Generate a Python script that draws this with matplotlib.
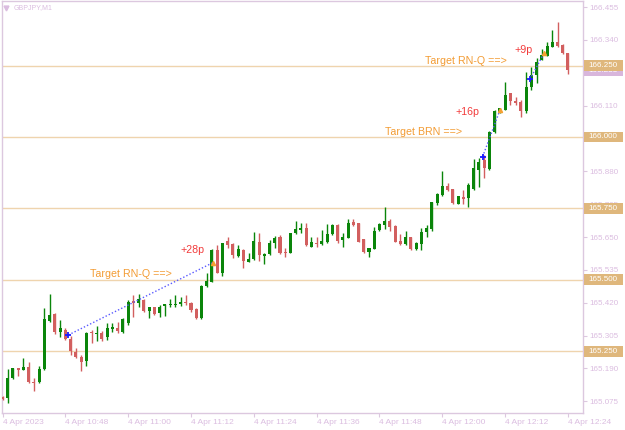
import numpy as np
import pandas as pd
import matplotlib
matplotlib.use("Agg")
import matplotlib.pyplot as plt
import matplotlib.transforms as mtransforms
from matplotlib.patches import Rectangle

plt.rcParams['font.family'] = ['Liberation Sans', 'DejaVu Sans']

# GBPJPY M1 candles, 4 Apr 2023 10:36 - 12:24
opens = [165.090, 165.085, 165.155, 165.190, 165.185, 165.194, 165.144, 165.141, 165.187, 165.356,
         165.379, 165.316, 165.325, 165.292, 165.249, 165.229, 165.215, 165.319, 165.312, 165.315,
         165.299, 165.329, 165.333, 165.319, 165.348, 165.427, 165.420, 165.430, 165.392, 165.404,
         165.383, 165.409, 165.412, 165.411, 165.416, 165.424, 165.420, 165.397, 165.365, 165.479,
         165.494, 165.605, 165.523, 165.636, 165.624, 165.583, 165.605, 165.564, 165.572, 165.634,
         165.585, 165.589, 165.628, 165.649, 165.599, 165.595, 165.663, 165.675, 165.680, 165.616,
         165.628, 165.624, 165.634, 165.659, 165.692, 165.640, 165.648, 165.704, 165.698, 165.642,
         165.599, 165.608, 165.675, 165.692, 165.707, 165.690, 165.637, 165.624, 165.649, 165.608,
         165.624, 165.666, 165.678, 165.768, 165.797, 165.829, 165.817, 165.766, 165.791, 165.785,
         165.817, 165.885, 165.920, 165.887, 166.016, 166.089, 166.095, 166.153, 166.126, 166.124,
         166.092, 166.174, 166.217, 166.270, 166.285, 166.316, 166.331, 166.322, 166.293]
highs = [165.095, 165.187, 165.193, 165.192, 165.225, 165.214, 165.157, 165.199, 165.400, 165.451,
         165.383, 165.360, 165.330, 165.304, 165.262, 165.237, 165.319, 165.325, 165.339, 165.321,
         165.350, 165.350, 165.354, 165.365, 165.430, 165.447, 165.451, 165.432, 165.406, 165.406,
         165.412, 165.416, 165.433, 165.447, 165.439, 165.447, 165.424, 165.400, 165.482, 165.523,
         165.608, 165.622, 165.630, 165.649, 165.630, 165.621, 165.607, 165.595, 165.666, 165.663,
         165.595, 165.640, 165.654, 165.657, 165.610, 165.665, 165.706, 165.700, 165.698, 165.649,
         165.649, 165.675, 165.695, 165.694, 165.694, 165.665, 165.712, 165.712, 165.700, 165.643,
         165.611, 165.686, 165.698, 165.756, 165.712, 165.692, 165.661, 165.672, 165.650, 165.633,
         165.680, 165.692, 165.774, 165.805, 165.881, 165.838, 165.818, 165.795, 165.815, 165.838,
         165.923, 165.925, 165.937, 166.021, 166.095, 166.100, 166.194, 166.154, 166.141, 166.130,
         166.229, 166.246, 166.275, 166.307, 166.334, 166.375, 166.404, 166.326, 166.295]
lows = [165.080, 165.070, 165.153, 165.165, 165.183, 165.140, 165.111, 165.140, 165.186, 165.354,
        165.311, 165.301, 165.290, 165.237, 165.227, 165.182, 165.199, 165.278, 165.286, 165.287,
        165.290, 165.319, 165.313, 165.313, 165.342, 165.371, 165.404, 165.389, 165.365, 165.378,
        165.371, 165.374, 165.406, 165.406, 165.409, 165.412, 165.389, 165.363, 165.363, 165.476,
        165.493, 165.524, 165.514, 165.610, 165.575, 165.581, 165.543, 165.561, 165.570, 165.566,
        165.556, 165.587, 165.610, 165.589, 165.581, 165.593, 165.662, 165.663, 165.620, 165.615,
        165.614, 165.622, 165.630, 165.657, 165.628, 165.616, 165.645, 165.688, 165.632, 165.593,
        165.581, 165.607, 165.672, 165.678, 165.671, 165.632, 165.623, 165.622, 165.605, 165.605,
        165.605, 165.649, 165.672, 165.762, 165.795, 165.811, 165.767, 165.764, 165.766, 165.756,
        165.815, 165.826, 165.855, 165.885, 166.015, 166.083, 166.093, 166.112, 166.112, 166.069,
        166.083, 166.165, 166.188, 166.268, 166.284, 166.315, 166.316, 166.291, 166.219]
closes = [165.083, 165.155, 165.190, 165.185, 165.194, 165.142, 165.140, 165.187, 165.362, 165.377,
          165.316, 165.330, 165.293, 165.252, 165.231, 165.214, 165.315, 165.313, 165.315, 165.293,
          165.333, 165.336, 165.320, 165.362, 165.424, 165.420, 165.432, 165.391, 165.404, 165.381,
          165.406, 165.414, 165.416, 165.416, 165.424, 165.418, 165.395, 165.365, 165.479, 165.496,
          165.605, 165.525, 165.628, 165.622, 165.587, 165.608, 165.567, 165.573, 165.636, 165.587,
          165.589, 165.628, 165.648, 165.593, 165.593, 165.663, 165.678, 165.680, 165.622, 165.631,
          165.624, 165.636, 165.659, 165.692, 165.637, 165.651, 165.700, 165.692, 165.634, 165.599,
          165.610, 165.672, 165.695, 165.706, 165.686, 165.634, 165.624, 165.649, 165.608, 165.630,
          165.669, 165.683, 165.771, 165.801, 165.829, 165.815, 165.768, 165.794, 165.784, 165.832,
          165.890, 165.914, 165.890, 166.019, 166.092, 166.100, 166.147, 166.127, 166.120, 166.092,
          166.176, 166.217, 166.264, 166.287, 166.319, 166.331, 166.320, 166.293, 166.233]

tick_labels = ["4 Apr 2023", "4 Apr 10:48", "4 Apr 11:00", "4 Apr 11:12", "4 Apr 11:24",
               "4 Apr 11:36", "4 Apr 11:48", "4 Apr 12:00", "4 Apr 12:12", "4 Apr 12:24"]
price_ticks = [166.455, 166.340, 166.110, 165.880, 165.765, 165.650,
               165.535, 165.420, 165.305, 165.190, 165.075]
levels = [166.250, 166.000, 165.750, 165.500, 165.250]
last_price = 166.233

# annotations (bar index, price)
note_text = ["Target RN-Q ==>", "+28p", "Target BRN ==>", "+16p", "Target RN-Q ==>", "+9p"]
note_bar = [16.7, 33.9, 73.05, 86.6, 80.7, 97.8]
note_price = [165.511, 165.593, 166.007, 166.077, 166.255, 166.294]
trend_start_bar = [12.57, 91.7, 100.75]
trend_start_price = [165.307, 165.931, 166.202]
trend_end_bar = [40.15, 95.0, 103.4]
trend_end_price = [165.560, 166.094, 166.293]

times = pd.date_range("2023-04-04 10:36", periods=len(opens), freq="min")
bars = np.arange(len(times))
o = np.array(opens)
h = np.array(highs)
l = np.array(lows)
c = np.array(closes)

green = '#0a850a'
red = '#d25f5f'
frame = '#dcc8df'
txt = '#dbbde0'
tan = '#dfb77c'
orange = '#f39c34'
pip_red = '#f23c3c'
colors = np.where(c >= o, green, red)

fig = plt.figure(figsize=(6.25, 4.30), dpi=100)
ax = fig.add_axes([2/625, 17/430, 581/625, 412/430])

for lv in levels:
    ax.axhline(lv, color='#efd4ae', lw=1, zorder=1)

ax.vlines(bars, l, h, colors=colors, lw=1, zorder=3)
body = np.maximum(np.abs(c - o), 0.003)
ax.bar(bars, body, bottom=np.minimum(o, c), width=0.58, color=colors, linewidth=0, zorder=4)

# dotted trend lines from start to target
for sb, sp, eb, ep in zip(trend_start_bar, trend_start_price, trend_end_bar, trend_end_price):
    ax.plot([sb, eb], [sp, ep], ls=(0, (1, 1.5)), color='#5a5aff', lw=1, zorder=5)
    ax.plot(sb, sp, marker='+', color='#1a1aff', ms=5, mew=1.3, zorder=6)
    ax.plot(eb, ep, marker='^', color='#f5a030', ms=3, zorder=6)

for t, b, p in zip(note_text, note_bar, note_price):
    col = pip_red if t.startswith('+') else orange
    ax.text(b, p, t, color=col, fontsize=7.7, ha='left', va='baseline', zorder=7)

ax.set_xlim(-0.0955, 110.87)
ax.set_ylim(165.034, 166.476)

ax.set_xticks(bars[::12])
ax.set_xticklabels(tick_labels, ha='left')
ax.yaxis.tick_right()
ax.set_yticks(price_ticks)
ax.set_yticklabels([f"{v:.3f}" for v in price_ticks])
ax.tick_params(axis='x', length=3, width=0.8, color=frame, labelcolor=txt, labelsize=6, pad=1.5)
ax.tick_params(axis='y', length=3, width=0.8, color=frame, labelcolor=txt, labelsize=5.8, pad=1.5)
for s in ax.spines.values():
    s.set_color(frame)
    s.set_linewidth(1)

# price boxes on the right axis
trans = mtransforms.blended_transform_factory(ax.transAxes, ax.transData)
bx = 1.0017
bw = 0.0671
bh = 0.038
tx = 1.0086
ax.add_patch(Rectangle((bx, last_price - bh / 2), bw, bh, transform=trans,
                       fc='#d8b6dc', ec='none', clip_on=False, zorder=8))
ax.text(tx, last_price, f"{last_price:.3f}", transform=trans, color='white',
        fontsize=5.8, va='center', ha='left', clip_on=False, zorder=8.5)
for lv in levels:
    ax.add_patch(Rectangle((bx, lv - bh / 2), bw, bh, transform=trans,
                           fc=tan, ec='none', clip_on=False, zorder=9))
    ax.text(tx, lv, f"{lv:.3f}", transform=trans, color='white',
            fontsize=5.8, va='center', ha='left', clip_on=False, zorder=10)

# symbol caption
ax.plot(0.0077, 0.983, marker='v', ms=3.5, color=txt, transform=ax.transAxes, clip_on=False)
ax.text(0.0207, 0.983, "GBPJPY,M1", transform=ax.transAxes, color=txt,
        fontsize=5, va='center', ha='left')

fig.savefig("out.png", dpi=100)
